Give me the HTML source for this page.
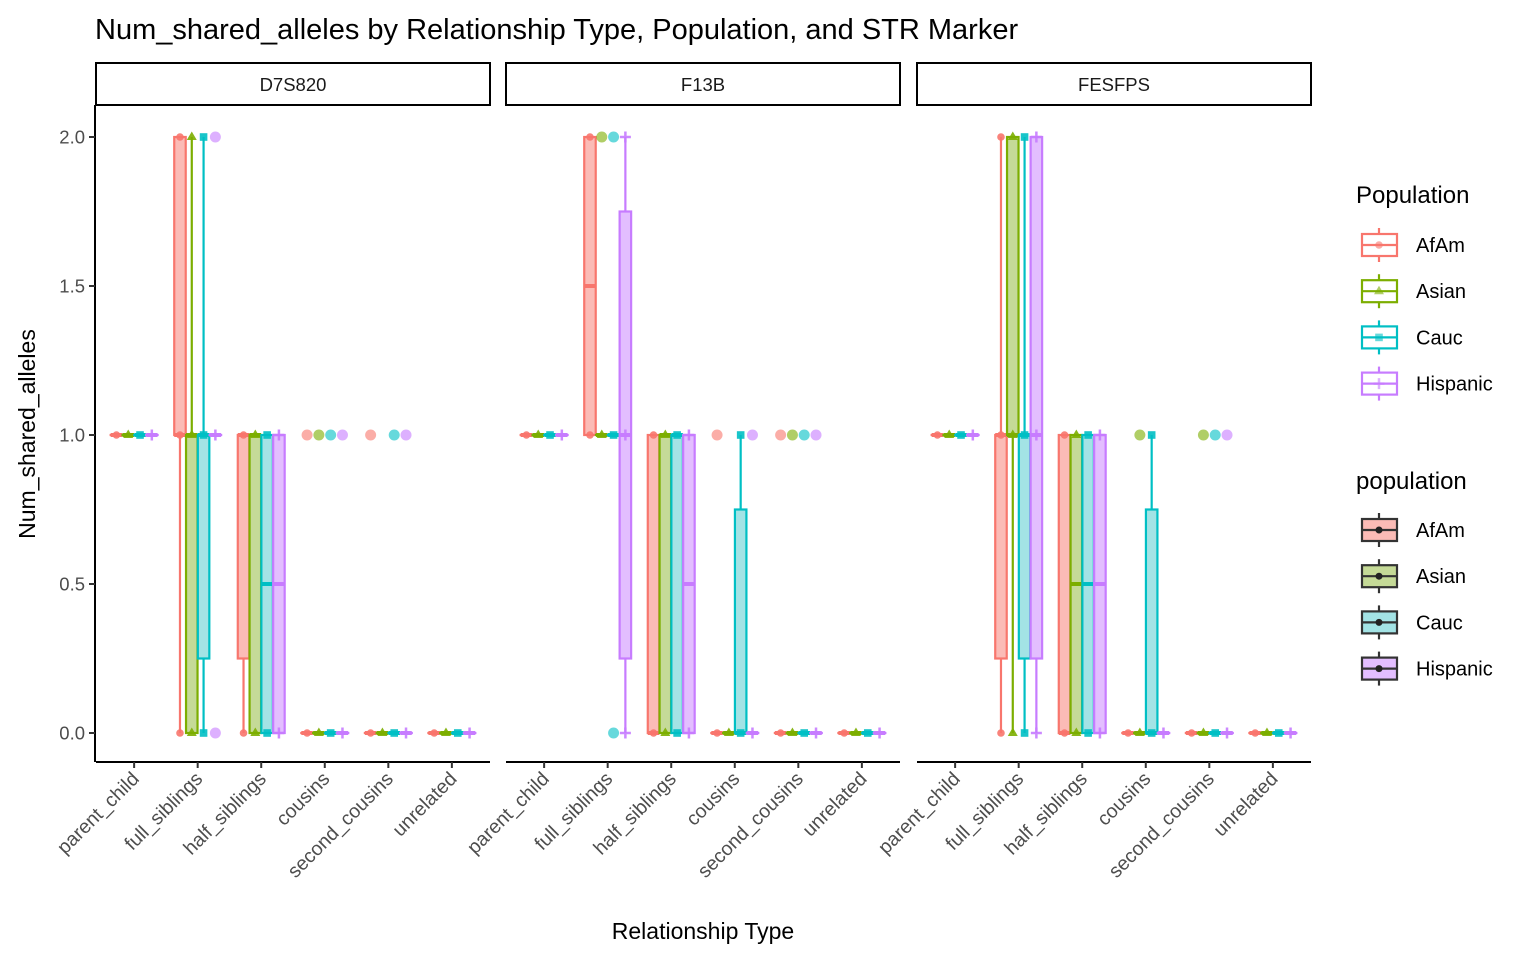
<!DOCTYPE html>
<html><head><meta charset="utf-8"><style>
body{margin:0;background:#fff;}
svg{display:block;font-family:"Liberation Sans",Arial,sans-serif;}
</style></head><body>
<svg id="chart" width="1536" height="960" viewBox="0 0 1536 960">
<text x="95" y="39" font-size="29" fill="#000">Num_shared_alleles by Relationship Type, Population, and STR Marker</text>
<text transform="translate(35,434) rotate(-90)" text-anchor="middle" font-size="23" fill="#000">Num_shared_alleles</text>
<text x="703" y="939" text-anchor="middle" font-size="23" fill="#000">Relationship Type</text>
<g id="plot"></g>
<g id="legend"></g>
</svg>
<script>
const markers = ["D7S820","F13B","FESFPS"];
const categories = ["parent_child","full_siblings","half_siblings","cousins","second_cousins","unrelated"];
const populations = ["AfAm","Asian","Cauc","Hispanic"];
const yTicks = [0,0.5,1,1.5,2];
const yTickLabels = ["0.0","0.5","1.0","1.5","2.0"];
// box stats [min, q1, median, q3, max] per marker -> category -> population
const boxD7S820 = [
 [[1,1,1,1,1],[1,1,1,1,1],[1,1,1,1,1],[1,1,1,1,1]],
 [[0,1,1,2,2],[0,0,1,1,2],[0,0.25,1,1,2],[1,1,1,1,1]],
 [[0,0.25,1,1,1],[0,0,1,1,1],[0,0,0.5,1,1],[0,0,0.5,1,1]],
 [[0,0,0,0,0],[0,0,0,0,0],[0,0,0,0,0],[0,0,0,0,0]],
 [[0,0,0,0,0],[0,0,0,0,0],[0,0,0,0,0],[0,0,0,0,0]],
 [[0,0,0,0,0],[0,0,0,0,0],[0,0,0,0,0],[0,0,0,0,0]]];
const boxF13B = [
 [[1,1,1,1,1],[1,1,1,1,1],[1,1,1,1,1],[1,1,1,1,1]],
 [[1,1,1.5,2,2],[1,1,1,1,1],[1,1,1,1,1],[0,0.25,1,1.75,2]],
 [[0,0,0,1,1],[0,0,1,1,1],[0,0,1,1,1],[0,0,0.5,1,1]],
 [[0,0,0,0,0],[0,0,0,0,0],[0,0,0,0.75,1],[0,0,0,0,0]],
 [[0,0,0,0,0],[0,0,0,0,0],[0,0,0,0,0],[0,0,0,0,0]],
 [[0,0,0,0,0],[0,0,0,0,0],[0,0,0,0,0],[0,0,0,0,0]]];
const boxFESFPS = [
 [[1,1,1,1,1],[1,1,1,1,1],[1,1,1,1,1],[1,1,1,1,1]],
 [[0,0.25,1,1,2],[0,1,1,2,2],[0,0.25,1,1,2],[0,0.25,1,2,2]],
 [[0,0,0,1,1],[0,0,0.5,1,1],[0,0,0.5,1,1],[0,0,0.5,1,1]],
 [[0,0,0,0,0],[0,0,0,0,0],[0,0,0,0.75,1],[0,0,0,0,0]],
 [[0,0,0,0,0],[0,0,0,0,0],[0,0,0,0,0],[0,0,0,0,0]],
 [[0,0,0,0,0],[0,0,0,0,0],[0,0,0,0,0],[0,0,0,0,0]]];
// outlier values (drawn as translucent circles) per marker -> category -> population
const outD7S820 = [[[],[],[],[]],[[],[],[],[2,0]],[[],[],[],[]],[[1],[1],[1],[1]],[[1],[],[1],[1]],[[],[],[],[]]];
const outF13B = [[[],[],[],[]],[[],[2],[2,0],[]],[[],[],[],[]],[[1],[],[],[1]],[[1],[1],[1],[1]],[[],[],[],[]]];
const outFESFPS = [[[],[],[],[]],[[],[],[],[]],[[],[],[],[]],[[],[1],[],[]],[[],[1],[1],[1]],[[],[],[],[]]];
// observed point values (jittered shapes)
const ptsD7S820 = [[[1],[1],[1],[1]],[[2,1,0],[2,1,0],[2,1,0],[1]],[[1,0],[1,0],[1,0],[1,0]],[[0],[0],[0],[0]],[[0],[0],[0],[0]],[[0],[0],[0],[0]]];
const ptsF13B = [[[1],[1],[1],[1]],[[2,1],[1],[1],[2,1,0]],[[1,0],[1,0],[1,0],[1,0]],[[0],[0],[1,0],[0]],[[0],[0],[0],[0]],[[0],[0],[0],[0]]];
const ptsFESFPS = [[[1],[1],[1],[1]],[[2,1,0],[2,1,0],[2,1,0],[2,1,0]],[[1,0],[1,0],[1,0],[1,0]],[[0],[0],[1,0],[0]],[[0],[0],[0],[0]],[[0],[0],[0],[0]]];

const boxes=[boxD7S820,boxF13B,boxFESFPS], outs=[outD7S820,outF13B,outFESFPS], pts=[ptsD7S820,ptsF13B,ptsFESFPS];
const colors=["#F8766D","#7CAE00","#00BFC4","#C77CFF"];
const fills=["#FBBBB6","#C5DA97","#A3E3E5","#E3BEFF"];
const NS="http://www.w3.org/2000/svg";
const panelX=[96,506,917], panelW=394, plotTop=105, plotBot=762;
const step=panelW/6.2, dodge=11.8, bw=11.5;
function yPx(v){return 733-298*v;}
function xCat(p,i){return panelX[p]+(0.6+i)*step;}
function mk(tag,attrs,parent){const e=document.createElementNS(NS,tag);for(const k in attrs)e.setAttribute(k,attrs[k]);parent.appendChild(e);return e;}
const plot=document.getElementById('plot');

function shape(g,j,x,y,col,op){
  let e;
  if(j===0){e=mk('circle',{cx:x,cy:y,r:3.8,fill:col,'fill-opacity':op},g);}
  else if(j===1){e=mk('polygon',{points:`${x},${y-5.5} ${x-5},${y+3} ${x+5},${y+3}`,fill:col,'fill-opacity':op},g);}
  else if(j===2){e=mk('rect',{x:x-3.8,y:y-3.8,width:7.6,height:7.6,fill:col,'fill-opacity':op},g);}
  else {e=mk('path',{d:`M${x-5.5},${y}H${x+5.5}M${x},${y-5.5}V${y+5.5}`,stroke:col,'stroke-width':2.5,'stroke-opacity':op},g);}
  return e;
}

// y axis
const ya=mk('g',{},plot);


mk('line',{x1:95,y1:plotTop,x2:95,y2:plotBot,stroke:'#000','stroke-width':2},ya);
yTicks.forEach((t,i)=>{
  mk('line',{x1:89,x2:95,y1:yPx(t),y2:yPx(t),stroke:'#333','stroke-width':2},ya);
  const tx=mk('text',{x:85,y:yPx(t)+6.5,'text-anchor':'end','font-size':18.5,fill:'#4d4d4d'},ya);
  tx.textContent=yTickLabels[i];
  
  
});

markers.forEach((m,p)=>{
  const g=mk('g',{},plot);
  
  
  const x0=panelX[p];
  const strip=mk('rect',{x:x0,y:63,width:panelW,height:42,fill:'#fff',stroke:'#000','stroke-width':2},g);
  
  
  const st=mk('text',{x:x0+panelW/2,y:91,'text-anchor':'middle','font-size':18.5,fill:'#1a1a1a'},g);
  st.textContent=m;
  
  
  mk('line',{x1:x0,x2:x0+panelW,y1:plotBot,y2:plotBot,stroke:'#000','stroke-width':2},g);
  categories.forEach((c,i)=>{
    const cx=xCat(p,i);
    mk('line',{x1:cx,x2:cx,y1:plotBot,y2:plotBot+6,stroke:'#333','stroke-width':2},g);
    const lt=mk('text',{transform:`translate(${cx+6},${plotBot+18}) rotate(-45)`,'text-anchor':'end','font-size':19.5,fill:'#4d4d4d'},g);
    lt.textContent=c;
    
    
    populations.forEach((pop,j)=>{
      const bx=cx+(j-1.5)*dodge;
      const s=boxes[p][i][j];
      const bg=mk('g',{},g);
      
      
      const col=colors[j];
      mk('line',{x1:bx,x2:bx,y1:yPx(s[4]),y2:yPx(s[3]),stroke:col,'stroke-width':2.2},bg);
      mk('line',{x1:bx,x2:bx,y1:yPx(s[1]),y2:yPx(s[0]),stroke:col,'stroke-width':2.2},bg);
      mk('rect',{x:bx-bw/2,y:yPx(s[3]),width:bw,height:Math.max(0.01,yPx(s[1])-yPx(s[3])),fill:fills[j],stroke:col,'stroke-width':2.2},bg);
      mk('line',{x1:bx-bw/2,x2:bx+bw/2,y1:yPx(s[2]),y2:yPx(s[2]),stroke:col,'stroke-width':4},bg);
      outs[p][i][j].forEach(v=>{
        const o=mk('circle',{cx:bx,cy:yPx(v),r:5.5,fill:col,'fill-opacity':0.6},bg);
        
        
      });
      pts[p][i][j].forEach(v=>{
        const e=shape(bg,j,bx,yPx(v),col,0.9);
        
        
      });
    });
  });
});

// legends
const lg=document.getElementById('legend');
function legend(title,ty,y0,dark){
  const g=mk('g',{},lg);
  
  
  const t=mk('text',{x:1356,y:ty,'font-size':24,fill:'#000'},g);
  t.textContent=title;
  
  
  populations.forEach((pop,j)=>{
    const y=y0+j*46.2, col=dark?'#333':colors[j];
    const e=mk('g',{},g);
    
    
    mk('line',{x1:1379,x2:1379,y1:y-17,y2:y+17,stroke:col,'stroke-width':2.2},e);
    mk('rect',{x:1362,y:y-11,width:35,height:22,fill:dark?fills[j]:'#fff',stroke:col,'stroke-width':2.2},e);
    mk('line',{x1:1362,x2:1397,y1:y,y2:y,stroke:col,'stroke-width':2.2},e);
    if(dark) mk('circle',{cx:1379,cy:y,r:3.5,fill:'#222'},e); else shape(e,j,1379,y,colors[j],0.6);
    const lt=mk('text',{x:1416,y:y+7,'font-size':20,fill:'#000'},e);
    lt.textContent=pop;
  });
}
legend('Population',203,245,false);
legend('population',489,530,true);
</script>
</body></html>
